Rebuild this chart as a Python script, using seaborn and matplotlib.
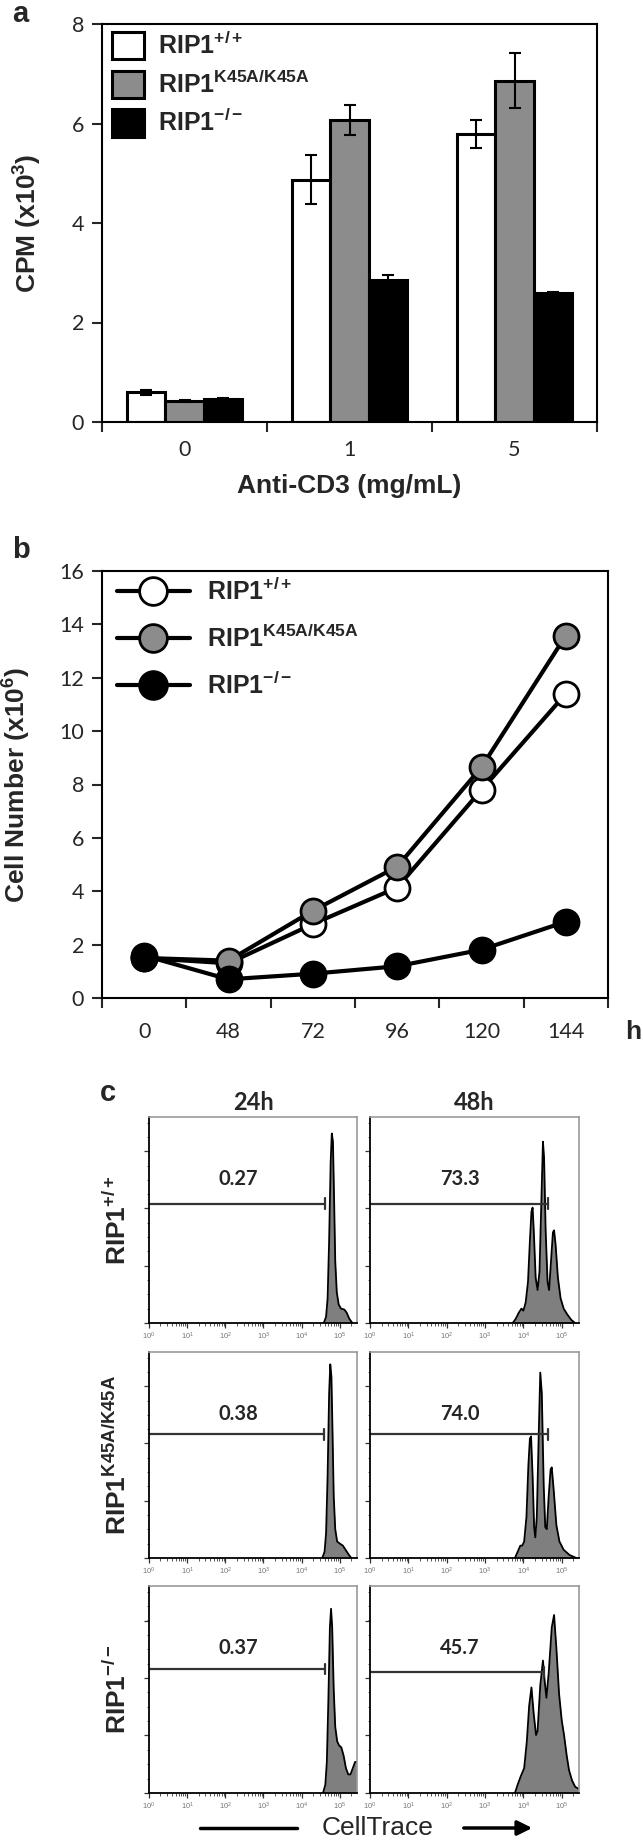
import numpy as np
import pandas as pd
import matplotlib
matplotlib.use("Agg")
import matplotlib.pyplot as plt
import seaborn as sns
from matplotlib.patches import Patch, FancyArrowPatch
from matplotlib.lines import Line2D
from matplotlib.ticker import AutoMinorLocator

# ---------------- data ----------------
genotypes = ["RIP1 +/+", "RIP1 K45A/K45A", "RIP1 -/-"]
genotype_labels = [r"RIP1$^{\mathbf{+/+}}$", r"RIP1$^{\mathbf{K45A/K45A}}$", r"RIP1$^{\mathbf{-/-}}$"]
fill_colors = ["white", "#8c8c8c", "black"]

# panel a: thymidine incorporation (CPM x10^3)
doses = ["0", "1", "5"]
cpm_wt = [0.60, 4.87, 5.79]
cpm_k45a = [0.43, 6.07, 6.86]
cpm_ko = [0.46, 2.86, 2.59]
err_wt = [0.05, 0.49, 0.29]
err_k45a = [0.02, 0.30, 0.55]
err_ko = [0.02, 0.10, 0.02]

# panel b: cell number (x10^6)
hours = ["0", "48", "72", "96", "120", "144"]
cells_wt = [1.50, 1.30, 2.77, 4.14, 7.80, 11.40]
cells_k45a = [1.50, 1.40, 3.27, 4.92, 8.65, 13.58]
cells_ko = [1.59, 0.70, 0.91, 1.19, 1.81, 2.86]

# panel c: CellTrace histograms (x = log10 intensity, y = fraction of max)
wt24_x = [4.58, 4.64, 4.68, 4.72, 4.76, 4.79, 4.82, 4.85, 4.88, 4.92, 4.97, 5.03, 5.12, 5.18, 5.25, 5.33]
wt24_y = [0.0, 0.03, 0.12, 0.40, 0.78, 0.92, 0.88, 0.60, 0.30, 0.15, 0.09, 0.07, 0.065, 0.05, 0.02, 0.0]
wt48_x = [3.72, 3.80, 3.88, 3.95, 4.00, 4.06, 4.12, 4.17, 4.21, 4.24, 4.27, 4.32, 4.37, 4.42, 4.47, 4.51,
          4.54, 4.58, 4.63, 4.67, 4.72, 4.77, 4.80, 4.84, 4.90, 4.97, 5.05, 5.15, 5.25, 5.35]
wt48_y = [0.0, 0.02, 0.05, 0.07, 0.06, 0.10, 0.20, 0.40, 0.54, 0.56, 0.45, 0.22, 0.16, 0.25, 0.60, 0.88,
          0.80, 0.45, 0.20, 0.16, 0.30, 0.44, 0.45, 0.38, 0.22, 0.12, 0.07, 0.04, 0.015, 0.0]
k45a24_x = [4.54, 4.60, 4.64, 4.68, 4.72, 4.75, 4.78, 4.81, 4.84, 4.88, 4.93, 5.00, 5.08, 5.15, 5.22, 5.30]
k45a24_y = [0.0, 0.03, 0.12, 0.40, 0.80, 0.94, 0.88, 0.60, 0.30, 0.14, 0.08, 0.07, 0.06, 0.04, 0.02, 0.0]
k45a48_x = [3.78, 3.85, 3.92, 3.97, 4.02, 4.08, 4.13, 4.17, 4.20, 4.24, 4.28, 4.31, 4.35, 4.40, 4.44, 4.48,
            4.53, 4.57, 4.61, 4.66, 4.71, 4.74, 4.79, 4.86, 4.94, 5.05, 5.20, 5.38]
k45a48_y = [0.0, 0.03, 0.06, 0.06, 0.08, 0.20, 0.45, 0.58, 0.59, 0.40, 0.15, 0.10, 0.20, 0.60, 0.90, 0.80,
            0.35, 0.15, 0.14, 0.30, 0.43, 0.44, 0.33, 0.16, 0.08, 0.04, 0.015, 0.0]
ko24_x = [4.56, 4.62, 4.66, 4.70, 4.74, 4.77, 4.80, 4.84, 4.88, 4.93, 4.98, 5.04, 5.10, 5.16, 5.22, 5.28,
          5.34, 5.40, 5.44]
ko24_y = [0.0, 0.04, 0.15, 0.45, 0.80, 0.89, 0.80, 0.50, 0.32, 0.25, 0.23, 0.22, 0.18, 0.12, 0.09, 0.09,
          0.12, 0.15, 0.15]
ko48_x = [3.78, 3.85, 3.93, 4.02, 4.09, 4.15, 4.21, 4.27, 4.33, 4.37, 4.44, 4.51, 4.55, 4.60, 4.66, 4.74,
          4.80, 4.86, 4.93, 5.00, 5.06, 5.13, 5.19, 5.27, 5.35, 5.44]
ko48_y = [0.0, 0.04, 0.08, 0.12, 0.25, 0.42, 0.51, 0.38, 0.28, 0.30, 0.52, 0.64, 0.55, 0.46, 0.58, 0.80,
          0.86, 0.70, 0.48, 0.35, 0.28, 0.18, 0.11, 0.06, 0.03, 0.02]

time_points = ["24h", "48h"]
gate_pct = [["0.27", "73.3"], ["0.38", "74.0"], ["0.37", "45.7"]]
gate_end = [[4.60, 4.63], [4.58, 4.63], [4.60, 4.55]]
gate_level = [[0.58, 0.58], [0.60, 0.60], [0.60, 0.585]]

# ---------------- style ----------------
sns.set_theme(style="ticks")
plt.rcParams["font.family"] = ["Lato", "DejaVu Sans"]
plt.rcParams["mathtext.fontset"] = "custom"
plt.rcParams["mathtext.rm"] = "Liberation Sans"
plt.rcParams["mathtext.bf"] = "Liberation Sans:bold"
plt.rcParams["mathtext.it"] = "Liberation Sans:italic"
BOLD = dict(family="Liberation Sans", weight="bold")

W, H = 643, 1841
fig = plt.figure(figsize=(W / 100, H / 100), dpi=100)


def box(l, t, r, b):
    return [l / W, 1 - b / H, (r - l) / W, (b - t) / H]


# ---------------- panel a ----------------
ax_a = fig.add_axes(box(102, 24, 597, 422))
df_a = pd.DataFrame({
    "dose": doses * 3,
    "genotype": np.repeat(genotypes, len(doses)),
    "cpm": cpm_wt + cpm_k45a + cpm_ko,
})
sns.barplot(data=df_a, x="dose", y="cpm", hue="genotype", hue_order=genotypes,
            palette=fill_colors, edgecolor="black", linewidth=2.2, width=0.7,
            errorbar=None, saturation=1, legend=False, ax=ax_a)
for cont, errs in zip(ax_a.containers, [err_wt, err_k45a, err_ko]):
    for bar, e in zip(cont, errs):
        ax_a.errorbar(bar.get_x() + bar.get_width() / 2, bar.get_height(), yerr=e,
                      color="black", lw=1.5, capsize=4, capthick=1.5, zorder=5)
ax_a.set_ylim(0, 8)
ax_a.set_yticks([0, 2, 4, 6, 8])
ax_a.set_xlim(-0.5, 2.5)
ax_a.set_xticks([-0.5, 0.5, 1.5, 2.5], minor=True)
ax_a.tick_params(axis="x", which="major", length=0, pad=13, labelsize=15.5)
ax_a.tick_params(axis="x", which="minor", length=7, width=1.5, direction="out")
ax_a.tick_params(axis="y", length=7, width=1.5, direction="out", labelsize=15.5, pad=6)
for s in ax_a.spines.values():
    s.set_linewidth(1.5)
    s.set_color("black")
ax_a.set_ylabel(r"CPM (x10$^{\mathbf{3}}$)", fontsize=19, **BOLD)
ax_a.yaxis.set_label_coords(-0.117, 0.5)
ax_a.set_xlabel("Anti-CD3 (mg/mL)", fontsize=19, **BOLD)
ax_a.xaxis.set_label_coords(0.5, -0.13)
handles_a = [Patch(facecolor=c, edgecolor="black", linewidth=2.2) for c in fill_colors]
ax_a.legend(handles_a, genotype_labels, loc="upper left", bbox_to_anchor=(0.02, 0.98),
            frameon=False, borderpad=0, borderaxespad=0, handlelength=1.3, handleheight=1.3,
            handletextpad=0.55, labelspacing=0.45, prop=dict(family="Liberation Sans", weight="bold", size=18))

# ---------------- panel b ----------------
ax_b = fig.add_axes(box(102, 571, 608, 998))
for vals, fc in zip([cells_wt, cells_k45a, cells_ko], fill_colors):
    sns.pointplot(x=hours, y=vals, order=hours, color="black", markers="o", errorbar=None,
                  markersize=18, markerfacecolor=fc, markeredgecolor="black",
                  markeredgewidth=2, linewidth=3, ax=ax_b)
ax_b.set_ylim(0, 16)
ax_b.set_yticks(range(0, 17, 2))
ax_b.set_xlim(-0.5, 5.5)
ax_b.set_xticks(np.arange(-0.5, 6, 1.0), minor=True)
ax_b.tick_params(axis="x", which="major", length=0, pad=17, labelsize=15.5)
ax_b.tick_params(axis="x", which="minor", length=7, width=1.5, direction="out")
ax_b.tick_params(axis="y", length=7, width=1.5, direction="out", labelsize=15.5, pad=6)
for s in ax_b.spines.values():
    s.set_linewidth(1.5)
    s.set_color("black")
ax_b.set_xlabel("")
ax_b.set_ylabel(r"Cell Number (x10$^{\mathbf{6}}$)", fontsize=19, **BOLD)
ax_b.yaxis.set_label_coords(-0.136, 0.5)
handles_b = [Line2D([], [], color="black", lw=3, marker="o", markersize=20, markerfacecolor=c,
                    markeredgecolor="black", markeredgewidth=2) for c in fill_colors]
ax_b.legend(handles_b, genotype_labels, loc="upper left", bbox_to_anchor=(0.03, 0.985),
            frameon=False, borderpad=0, borderaxespad=0, handlelength=2.9,
            handletextpad=0.7, labelspacing=0.8, prop=dict(family="Liberation Sans", weight="bold", size=18))

# ---------------- panel c ----------------
hist_x = [[wt24_x, wt48_x], [k45a24_x, k45a48_x], [ko24_x, ko48_x]]
hist_y = [[wt24_y, wt48_y], [k45a24_y, k45a48_y], [ko24_y, ko48_y]]
col_lr = [(149, 357), (370, 579)]
row_tb = [(1117, 1323), (1352, 1558), (1586, 1793)]
minor_x = [k + np.log10(m) for k in range(6) for m in range(2, 10) if k + np.log10(m) < 5.45]

for r in range(3):
    for c in range(2):
        l, rr = col_lr[c]
        t, b = row_tb[r]
        ax = fig.add_axes(box(l, t, rr, b))
        xs, ys = hist_x[r][c], hist_y[r][c]
        ax.fill_between(xs, ys, color="#7f7f7f", lw=0)
        sns.lineplot(x=xs, y=ys, sort=False, color="black", lw=1.3, ax=ax)
        g, gy = gate_end[r][c], gate_level[r][c]
        ax.plot([0, g], [gy, gy], color="#333333", lw=1.6)
        ax.plot([g, g], [gy - 0.025, gy + 0.025], color="#333333", lw=1.6)
        ax.text(0.43, 0.70, gate_pct[r][c], transform=ax.transAxes, ha="center", va="center",
                fontsize=14.5, fontweight="bold", family="Lato")
        ax.set_xlim(0, 5.45)
        ax.set_ylim(0, 1)
        ax.set_xticks(range(6))
        ax.set_xticks(minor_x, minor=True)
        ax.set_xticklabels([r"$10^{%d}$" % k for k in range(6)], fontsize=5.5, color="#777777")
        ax.set_yticks([0, 0.278, 0.556, 0.833])
        ax.set_yticklabels([])
        ax.yaxis.set_minor_locator(AutoMinorLocator(4))
        ax.tick_params(which="major", length=3.5, width=0.9, color="#333333", direction="out", pad=2)
        ax.tick_params(which="minor", length=1.8, width=0.7, color="#555555", direction="out")
        ax.set_xlabel("")
        ax.set_ylabel("")
        for side in ["left", "bottom"]:
            ax.spines[side].set_color("black")
            ax.spines[side].set_linewidth(1.3)
        for side in ["top", "right"]:
            ax.spines[side].set_color("#999999")
            ax.spines[side].set_linewidth(1.2)

for c, tp in enumerate(time_points):
    fig.text(sum(col_lr[c]) / 2 / W, 1 - 1102 / H, tp, ha="center", va="center", fontsize=17,
             fontweight="bold", family="Lato")
for r, lab in enumerate(genotype_labels):
    fig.text(117 / W, 1 - sum(row_tb[r]) / 2 / H, lab, rotation=90, ha="center", va="center",
             fontsize=19, **BOLD)

# CellTrace axis caption with arrow
fig.text(378 / W, 1 - 1828 / H, "CellTrace", ha="center", va="center", fontsize=19,
         family="Liberation Sans")
fig.add_artist(Line2D([200 / W, 297 / W], [1 - 1828 / H] * 2, color="black", lw=2.5))
fig.add_artist(FancyArrowPatch((461 / W, 1 - 1828 / H), (535 / W, 1 - 1828 / H),
                               transform=fig.transFigure, arrowstyle="-|>",
                               mutation_scale=22, color="black", lw=2.5))

# panel letters and time unit
fig.text(12 / W, 1 - 14 / H, "a", fontsize=21, ha="left", va="center", **BOLD)
fig.text(12 / W, 1 - 550 / H, "b", fontsize=21, ha="left", va="center", **BOLD)
fig.text(100 / W, 1 - 1093 / H, "c", fontsize=21, ha="left", va="center", **BOLD)
fig.text(633 / W, 1 - 1032 / H, "h", fontsize=19, ha="center", va="center", **BOLD)

fig.savefig("out.png", dpi=100, facecolor="white")
